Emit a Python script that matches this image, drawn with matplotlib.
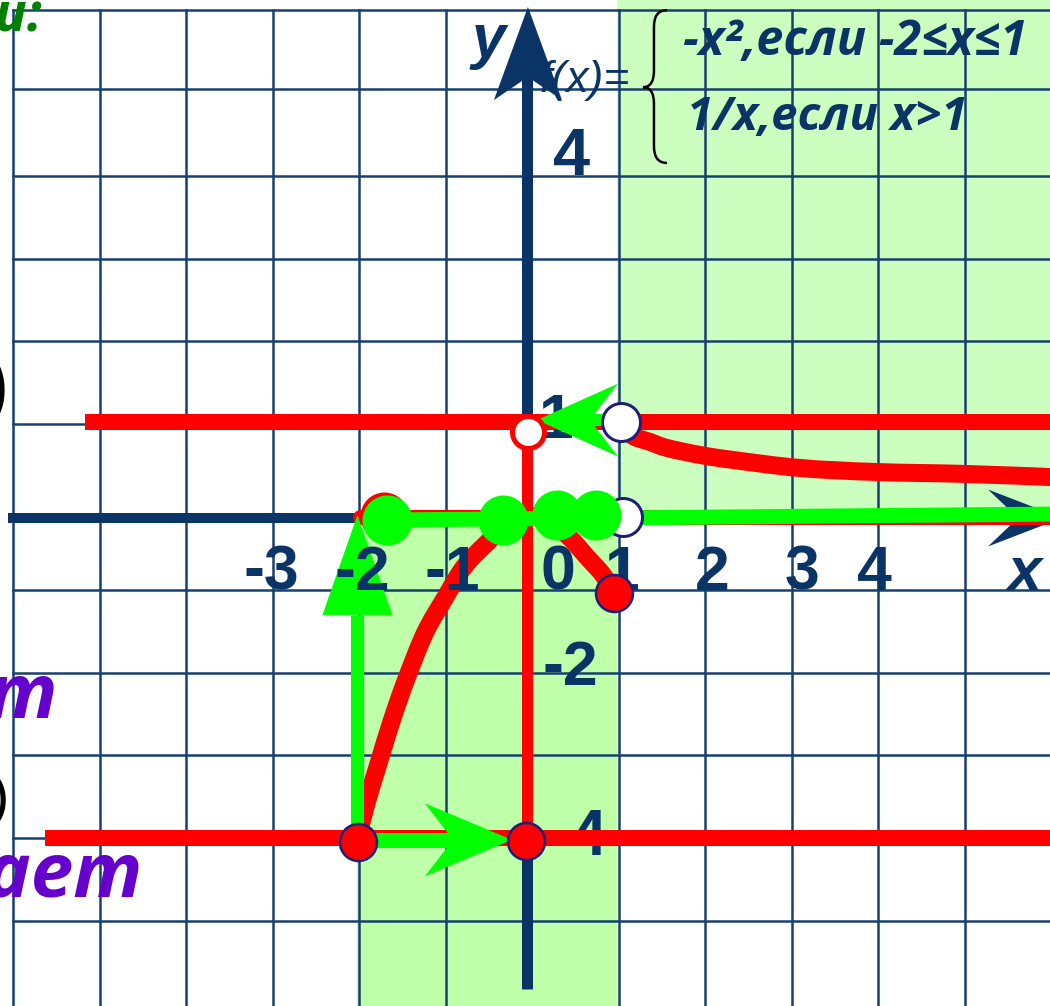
import matplotlib
matplotlib.use("Agg")
import matplotlib.pyplot as plt
from matplotlib.patches import Polygon, Rectangle, PathPatch
from matplotlib.path import Path

# ---------------- data (grid units) ----------------
grid_x = [-6, -5, -4, -3, -2, -1, 1, 2, 3, 4, 5]
grid_y = [6.0, 5.05, 4.0, 3.0, 2.0, 1.0, -1.0, -2.0, -3.0, -4.0, -5.0]

# branch -x^2 on [-2, 1] (as drawn)
parab_x = [-2.025, -1.921, -1.782, -1.621, -1.459, -1.240, -1.009, -0.789,
           -0.524, -0.258, -0.026, 0.228, 0.436, 0.632, 0.817, 0.944]
parab_y = [-4.022, -3.599, -3.116, -2.572, -2.089, -1.522, -1.099, -0.725,
           -0.435, -0.181, -0.109, -0.205, -0.374, -0.604, -0.82, -1.04]

# branch 1/x for x > 1 (as drawn)
hyp_x = [1.026, 1.163, 1.36, 1.556, 1.938, 2.32, 3.09, 3.957, 5.01, 5.98]
hyp_y = [0.99, 0.857, 0.785, 0.713, 0.628, 0.568, 0.471, 0.423, 0.399, 0.362]

# horizontal red lines y = 1 and y = -4, vertical x = 0
red_h_y = [1.027, -4.0]
red_h_start = [-5.17, -5.63]
red_v_x = -0.061
red_v_y = [0.906, -4.02]
red_axis_line = (-1.99, -0.127)

# green projection line on the x axis
green_line_x = [-1.678, 6.1]
green_line_y = [-0.157, -0.085]

green_dots_x = [-1.678, -0.339, 0.285, 0.736]
green_dots_y = [-0.157, -0.157, -0.097, -0.097]

open_x = [1.026, 1.05]
open_y = [1.027, -0.12]
red_open = (-0.05, 0.906)
red_dots_x = [0.944, -0.073, -2.015, -1.71]
red_dots_y = [-1.04, -4.03, -4.05, -0.109]

xtick_labels = ["-3", "-2", "-1", "0", "1", "2", "3", "4"]
xtick_pos = [-3.019, -1.968, -0.928, 0.297, 1.036, 2.075, 3.115, 3.959]

# ---------------- frame ----------------
XLIM = (-6.150, 5.982)
YLIM = (-6.027, 6.123)
PX = 0.72  # points per pixel at dpi 100

NAVY = '#0b3466'
GRIDC = '#17406f'
RED = '#ff0000'
GREEN = '#00ff00'
EDGE = '#1b1f7a'
NUM = ['Liberation Sans', 'DejaVu Sans']
CYR = ['Open Sans', 'DejaVu Sans']

fig = plt.figure(figsize=(10.5, 10.06), dpi=100)
ax = fig.add_axes([0, 0, 1, 1])
ax.set_xlim(*XLIM)
ax.set_ylim(*YLIM)
ax.axis('off')


def smooth(xs, ys):
    """Catmull-Rom curve through the given points as cubic Bezier path."""
    pts = list(zip(xs, ys))
    n = len(pts)
    verts = [pts[0]]
    codes = [Path.MOVETO]
    for i in range(n - 1):
        p0 = pts[max(i - 1, 0)]
        p1 = pts[i]
        p2 = pts[i + 1]
        p3 = pts[min(i + 2, n - 1)]
        c1 = (p1[0] + (p2[0] - p0[0]) / 6, p1[1] + (p2[1] - p0[1]) / 6)
        c2 = (p2[0] - (p3[0] - p1[0]) / 6, p2[1] - (p3[1] - p1[1]) / 6)
        verts += [c1, c2, p2]
        codes += [Path.CURVE4] * 3
    return Path(verts, codes)


def stealth_h(tip, wing_x, half, notch_x, **kw):
    tx, ty = tip
    return Polygon([(tx, ty), (wing_x, ty + half), (notch_x, ty),
                    (wing_x, ty - half)], closed=True, **kw)


def stealth_v(tip, wing_y, half, notch_y, **kw):
    tx, ty = tip
    return Polygon([(tx, ty), (tx - half, wing_y), (tx, notch_y),
                    (tx + half, wing_y)], closed=True, **kw)


# green areas
ax.add_patch(Rectangle((0.98, -0.205), XLIM[1] - 0.98 + 0.1, YLIM[1] + 0.5,
                       facecolor='#ccffbf', edgecolor='none', zorder=0))
ax.add_patch(Rectangle((-2.02, YLIM[0] - 0.1), 3.0, -0.157 - YLIM[0] + 0.1,
                       facecolor='#bfffaa', edgecolor='none', zorder=0))

# grid
for gx in grid_x:
    ax.plot([gx, gx], [YLIM[0] - 0.1, 6.0], color=GRIDC, lw=1.8, zorder=1)
for gy in grid_y:
    ax.plot([-6.0, XLIM[1] + 0.1], [gy, gy], color=GRIDC, lw=1.8, zorder=1)

# axes
ax.plot([-6.06, 5.62], [-0.133, -0.133], color=NAVY, lw=10 * PX,
        solid_capstyle='butt', zorder=2)
ax.add_patch(stealth_h((6.12, -0.133), 5.266, 0.344, 5.612, facecolor=NAVY,
                       edgecolor='none', zorder=2))
ax.plot([-0.061, -0.061], [-5.82, 5.2], color=NAVY, lw=11 * PX,
        solid_capstyle='butt', zorder=2)
ax.add_patch(stealth_v((-0.05, 6.039), 4.915, 0.393, 5.193, facecolor=NAVY,
                       edgecolor='none', zorder=2))

# y-axis labels (under the red lines)
ax.text(0.459, 4.01, "4", fontsize=48, fontweight='bold', family=NUM,
        color=NAVY, ha='center', va='baseline', zorder=3)
ax.text(0.436, -2.15, "-2", fontsize=45, fontweight='bold', family=NUM,
        color=NAVY, ha='center', va='baseline', zorder=3)
ax.text(0.274, 0.833, "1", fontsize=45, fontweight='bold', family=NUM,
        color=NAVY, ha='center', va='baseline', zorder=3)
ax.text(0.863, -4.203, "-4", fontsize=46, fontweight='bold', family=NUM,
        color=NAVY, ha='right', va='baseline', zorder=3)

# red graph
for yy, x0 in zip(red_h_y, red_h_start):
    ax.plot([x0, XLIM[1] + 0.1], [yy, yy], color=RED, lw=16 * PX,
            solid_capstyle='butt', zorder=4)
ax.plot([red_v_x, red_v_x], red_v_y, color=RED, lw=11 * PX,
        solid_capstyle='butt', zorder=4)
ax.plot([red_axis_line[0], XLIM[1] + 0.1], [red_axis_line[1]] * 2, color=RED,
        lw=15 * PX, solid_capstyle='round', zorder=4)
for xs, ys in ((parab_x, parab_y), (hyp_x, hyp_y)):
    pp = PathPatch(smooth(xs, ys), facecolor='none', edgecolor=RED,
                   lw=18 * PX, zorder=4)
    pp.set_capstyle('round')
    pp.set_joinstyle('round')
    ax.add_patch(pp)

# green arrows and projection
ax.plot(green_line_x, green_line_y, color=GREEN, lw=15 * PX,
        solid_capstyle='butt', zorder=5)
ax.plot([0.99, 0.667], [1.05, 1.05], color=GREEN, lw=12 * PX,
        solid_capstyle='butt', zorder=5)
ax.add_patch(stealth_h((0.054, 1.05), 0.99, 0.44, 0.667, facecolor=GREEN,
                       edgecolor='none', zorder=5))
ax.plot([-2.03, -2.03], [-4.02, -1.30], color=GREEN, lw=13 * PX,
        solid_capstyle='butt', zorder=5)
ax.add_patch(Polygon([(-2.02, -0.097), (-2.424, -1.304), (-1.616, -1.304)],
                     closed=True, facecolor=GREEN, edgecolor='none', zorder=5))
ax.plot([-2.03, -0.916], [-4.02, -4.02], color=GREEN, lw=15 * PX,
        solid_capstyle='butt', zorder=5)
ax.add_patch(stealth_h((-0.235, -4.02), -1.24, 0.44, -0.916, facecolor=GREEN,
                       edgecolor='none', zorder=5))

# x tick labels
for lab, xp in zip(xtick_labels, xtick_pos):
    ax.text(xp, -1.002, lab, fontsize=45, fontweight='bold', family=NUM,
            color=NAVY, ha='center', va='baseline', zorder=6)
ax.text(5.69, -1.002, "x", fontsize=44, fontweight='bold', style='italic',
        family=NUM, color=NAVY, ha='center', va='baseline', zorder=6)
ax.text(-0.50, 5.43, "y", fontsize=44, fontweight='bold', style='italic',
        family=NUM, color=NAVY, ha='center', va='baseline', zorder=6)

# points
ax.plot(red_dots_x[3:], red_dots_y[3:], 'o', ms=48 * PX, color=RED,
        mec=RED, mew=0, zorder=7)
ax.plot(open_x, open_y, 'o', ms=38 * PX, mfc='white', mec=EDGE,
        mew=3 * PX, zorder=7)
ax.plot([red_open[0]], [red_open[1]], 'o', ms=32 * PX, mfc='white', mec=RED,
        mew=5 * PX, zorder=7)
ax.plot(red_dots_x[:3], red_dots_y[:3], 'o', ms=37 * PX, mfc=RED, mec=EDGE,
        mew=2.5 * PX, zorder=7)
ax.plot(green_dots_x, green_dots_y, 'o', ms=50 * PX, color=GREEN, mew=0,
        zorder=8)

# formula
ax.text(1.129, 5.01, "f(x)=", fontsize=32, style='italic', family=NUM,
        color=NAVY, ha='right', va='baseline', zorder=9)
ax.text(1.739, 5.459, "-x²,если -2≤x≤1", fontsize=35, fontweight='bold',
        style='italic', family=CYR, color=NAVY, ha='left', va='baseline',
        zorder=9)
ax.text(1.785, 4.553, "1/x,если x>1", fontsize=34, fontweight='bold',
        style='italic', family=CYR, color=NAVY, ha='left', va='baseline',
        zorder=9)

# brace
bl, bm, br = 1.279, 1.406, 1.556
bt, btip, bb, d = 6.0, 5.07, 4.155, 0.2
verts = [(br, bt), (bm, bt), (bm, bt - d), (bm, btip + d), (bm, btip),
         (bl, btip), (bm, btip), (bm, btip - d), (bm, bb + d), (bm, bb),
         (br, bb)]
codes = [Path.MOVETO, Path.CURVE3, Path.CURVE3, Path.LINETO, Path.CURVE3,
         Path.CURVE3, Path.CURVE3, Path.CURVE3, Path.LINETO, Path.CURVE3,
         Path.CURVE3]
ax.add_patch(PathPatch(Path(verts, codes), facecolor='none',
                       edgecolor='black', lw=2.5 * PX, zorder=9))

# cut-off slide texts at the left edge
ax.text(-5.665, 5.75, "Исследуй:", fontsize=38, fontweight='bold',
        style='italic', family=CYR, color='#008000', ha='right',
        va='baseline', zorder=9)
ax.text(-6.04, 1.147, ")", fontsize=60, family=NUM, color='black',
        ha='right', va='baseline', zorder=9)
ax.text(-6.04, -3.72, ")", fontsize=42, family=NUM, color='black',
        ha='right', va='baseline', zorder=9)
ax.text(-5.48, -2.548, "растёт", fontsize=55, fontweight='bold',
        style='italic', family=CYR, color='#6600cc', ha='right',
        va='baseline', zorder=9)
ax.text(-4.50, -4.71, "убывает", fontsize=55, fontweight='bold',
        style='italic', family=CYR, color='#6600cc', ha='right',
        va='baseline', zorder=9)

fig.savefig("out.png", dpi=100)
